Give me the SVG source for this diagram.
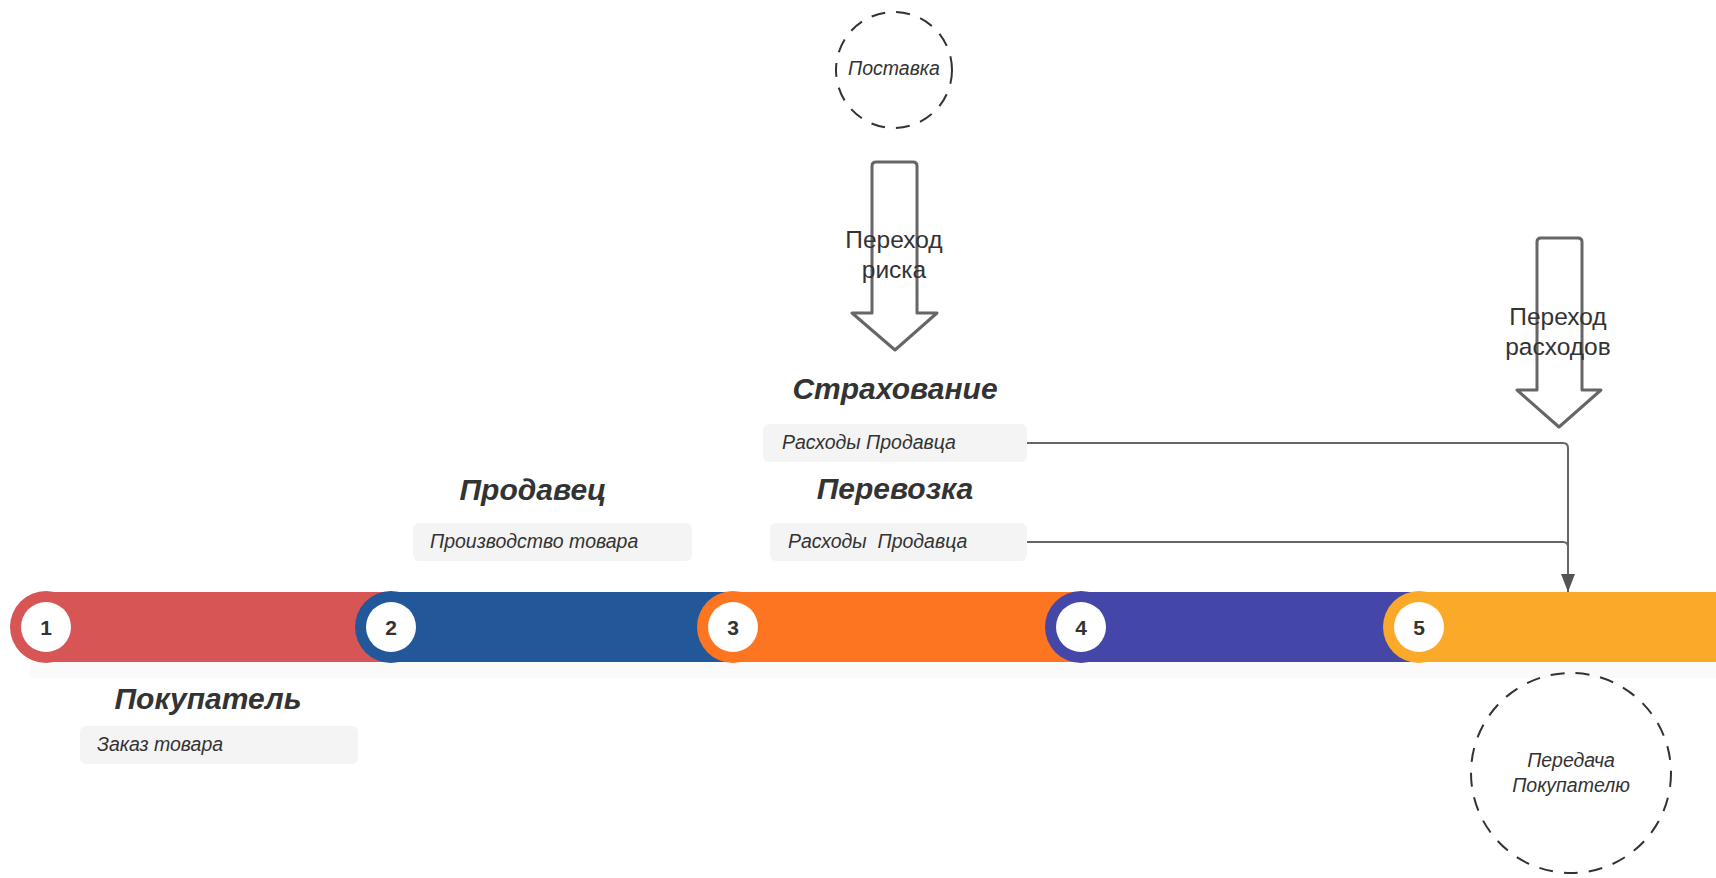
<svg xmlns="http://www.w3.org/2000/svg" width="1716" height="878" viewBox="0 0 1716 878">
<defs>
<style>
.num{font-family:"Liberation Sans",Arial,sans-serif;font-weight:bold;font-size:21px;fill:#333;text-anchor:middle}
.title{font-family:"Liberation Sans",Arial,sans-serif;font-weight:bold;font-style:italic;font-size:30px;fill:#333;text-anchor:middle}
.box{fill:#F4F4F4}
.boxt{font-family:"Liberation Sans",Arial,sans-serif;font-style:italic;font-size:19.5px;fill:#333}
.ctext{font-family:"Liberation Sans",Arial,sans-serif;font-style:italic;font-size:19.5px;fill:#333;text-anchor:middle}
.atext{font-family:"Liberation Sans",Arial,sans-serif;font-size:24.5px;fill:#333;text-anchor:middle}
.dash{fill:none;stroke:#333;stroke-width:2;stroke-dasharray:14 11}
.big{fill:none;stroke:#666;stroke-width:3;stroke-linejoin:round}
.conn{fill:none;stroke:#666;stroke-width:2}
</style>
<marker id="ah" markerWidth="18" markerHeight="14" refX="18" refY="7" orient="auto" markerUnits="userSpaceOnUse" viewBox="0 0 18 14">
<path d="M0,0 L18,7 L0,14 Z" fill="#555"/>
</marker>
</defs>
<rect width="1716" height="878" fill="#fff"/>

<g id="bar">
<rect x="30" y="662" width="1686" height="16" fill="#FAFAFA"/>
<rect x="46" y="592" width="360" height="70" fill="#D85556"/>
<circle cx="46" cy="627" r="36" fill="#D85556"/>
<circle cx="391" cy="627" r="36" fill="#22589A"/>
<rect x="391" y="592" width="357" height="70" fill="#22589A"/>
<circle cx="733" cy="627" r="36" fill="#FE7521"/>
<rect x="733" y="592" width="363" height="70" fill="#FE7521"/>
<circle cx="1081" cy="627" r="36" fill="#4447A7"/>
<rect x="1081" y="592" width="353" height="70" fill="#4447A7"/>
<circle cx="1419" cy="627" r="36" fill="#FBA928"/>
<rect x="1419" y="592" width="297" height="70" fill="#FBA928"/>
</g>

<g id="step1"><circle cx="46" cy="627" r="25" fill="#fff"/><text class="num" x="46" y="635">1</text></g>
<g id="step2"><circle cx="391" cy="627" r="25" fill="#fff"/><text class="num" x="391" y="635">2</text></g>
<g id="step3"><circle cx="733" cy="627" r="25" fill="#fff"/><text class="num" x="733" y="635">3</text></g>
<g id="step4"><circle cx="1081" cy="627" r="25" fill="#fff"/><text class="num" x="1081" y="635">4</text></g>
<g id="step5"><circle cx="1419" cy="627" r="25" fill="#fff"/><text class="num" x="1419" y="635">5</text></g>

<g id="buyer">
<text class="title" x="208" y="709">Покупатель</text>
<rect class="box" x="80" y="726" width="278" height="38" rx="6"/>
<text class="boxt" x="97" y="751">Заказ товара</text>
</g>

<g id="seller">
<text class="title" x="533" y="500">Продавец</text>
<rect class="box" x="413" y="523" width="279" height="38" rx="6"/>
<text class="boxt" x="430" y="548">Производство товара</text>
</g>

<g id="insurance">
<text class="title" x="895" y="399">Страхование</text>
<rect class="box" x="763" y="424" width="264" height="38" rx="6"/>
<text class="boxt" x="782" y="449">Расходы Продавца</text>
</g>

<g id="transport">
<text class="title" x="895" y="499">Перевозка</text>
<rect class="box" x="770" y="523" width="257" height="38" rx="6"/>
<text class="boxt" x="788" y="548" xml:space="preserve">Расходы  Продавца</text>
</g>

<g id="delivery">
<circle class="dash" cx="894" cy="70" r="58"/>
<text class="ctext" x="894" y="75">Поставка</text>
</g>

<g id="handover">
<circle class="dash" cx="1571" cy="773" r="100"/>
<text class="ctext" x="1571" y="767">Передача</text>
<text class="ctext" x="1571" y="792">Покупателю</text>
</g>

<g id="risk">
<path class="big" d="M872,166 Q872,162 876,162 L913,162 Q917,162 917,166 L917,313 L937,313 L895,350 L852,313 L872,313 Z"/>
<text class="atext" x="894" y="248">Переход</text>
<text class="atext" x="894" y="278">риска</text>
</g>

<g id="costs">
<path class="big" d="M1537,242 Q1537,238 1541,238 L1578,238 Q1582,238 1582,242 L1582,390 L1601,390 L1559,427 L1517,390 L1537,390 Z"/>
<text class="atext" x="1558" y="325">Переход</text>
<text class="atext" x="1558" y="355">расходов</text>
</g>

<g id="connectors">
<path class="conn" d="M1027,443 L1563,443 Q1568,443 1568,448 L1568,592" marker-end="url(#ah)"/>
<path class="conn" d="M1027,542 L1563,542 Q1568,542 1568,547"/>
</g>
</svg>
